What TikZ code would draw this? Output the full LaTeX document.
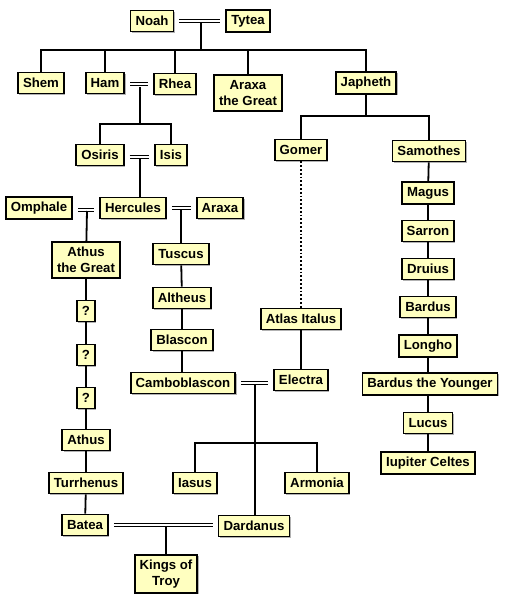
\documentclass[tikz,border=0pt]{standalone}
\usepackage{fontspec}
\setmainfont{Liberation Sans}
\usetikzlibrary{shadows}

\definecolor{boxfill}{HTML}{FFFFC0}

\begin{document}
\begin{tikzpicture}[
    x=1pt, y=-1pt,
    person/.style={rectangle, draw=black, line width=1.8pt, fill=boxfill,
        minimum height=21pt, inner xsep=5pt, inner ysep=5pt, align=center,
        font=\bfseries\fontsize{13.2}{16}\selectfont,
        drop shadow={shadow xshift=1.2pt, shadow yshift=-1.2pt, fill=gray!60, opacity=1}},
    line/.style={line width=1.8pt},
    marr/.style={double, double distance=2pt, line width=1.2pt,
        shorten <=5pt, shorten >=5pt}
    ]
    \useasboundingbox (0,0) rectangle (506,600);

    % Nodes
    \node[person] (noah) at (152,21) {Noah};
    \node[person] (tytea) at (248,21) {Tytea};
    \node[person] (shem) at (41,83) {Shem};
    \node[person] (ham) at (105,83) {Ham};
    \node[person] (rhea) at (175,84) {Rhea};
    \node[person] (araxag) at (248,93) {Araxa\\the Great};
    \node[person] (japheth) at (366,83) {Japheth};
    \node[person] (osiris) at (100,155) {Osiris};
    \node[person] (isis) at (171,155) {Isis};
    \node[person] (omphale) at (39,208) {Omphale};
    \node[person] (hercules) at (133,208) {Hercules};
    \node[person] (araxa) at (220,208) {Araxa};
    \node[person] (athusg) at (86,260) {Athus\\the Great};
    \node[person] (q1) at (86,311) {?};
    \node[person] (q2) at (86,355) {?};
    \node[person] (q3) at (86,398) {?};
    \node[person] (athus) at (86,440) {Athus};
    \node[person] (turrhenus) at (86,483) {Turrhenus};
    \node[person] (batea) at (85,525) {Batea};
    \node[person] (tuscus) at (181,254) {Tuscus};
    \node[person] (altheus) at (182,298) {Altheus};
    \node[person] (blascon) at (182,340) {Blascon};
    \node[person] (cambo) at (183,383) {Camboblascon};
    \node[person] (gomer) at (301,150) {Gomer};
    \node[person] (atlas) at (301,319) {Atlas Italus};
    \node[person] (electra) at (301,380) {Electra};
    \node[person] (iasus) at (195,483) {Iasus};
    \node[person] (armonia) at (317,483) {Armonia};
    \node[person] (dardanus) at (254,526) {Dardanus};
    \node[person] (kings) at (166,574) {Kings of\\Troy};
    \node[person] (samothes) at (429,151) {Samothes};
    \node[person] (magus) at (428,193) {Magus};
    \node[person] (sarron) at (428,231) {Sarron};
    \node[person] (druius) at (428,269) {Druius};
    \node[person] (bardus) at (428,307) {Bardus};
    \node[person] (longho) at (428,346) {Longho};
    \node[person] (bardusy) at (430,384) {Bardus the Younger};
    \node[person] (lucus) at (428,423) {Lucus};
    \node[person] (iupiter) at (428,463) {Iupiter Celtes};

    % Junction points
    \coordinate (nttop) at (201,23);
    \coordinate (ntbar) at (201,50);
    \coordinate (hrtop) at (140,87);
    \coordinate (hrbar) at (140,124);
    \coordinate (oitop) at (140,159);
    \coordinate (ohtop) at (87,211);
    \coordinate (hatop) at (181,210);
    \coordinate (jbar) at (366,116);
    \coordinate (cetop) at (255,385);
    \coordinate (cebar) at (255,443);
    \coordinate (bdtop) at (166,527);

    % Marriages
    \draw[marr] (noah) -- (tytea);
    \draw[marr] (ham.east |- rhea) -- (rhea);
    \draw[marr] (osiris.east |- 0,157) -- (isis.west |- 0,157);
    \draw[marr] (omphale.east |- 0,210) -- (hercules.west |- 0,210);
    \draw[marr] (hercules) -- (araxa);
    \draw[marr] (cambo) -- (cambo -| electra.west);
    \draw[marr] (batea) -- (batea -| dardanus.west);

    % Children of Noah
    \draw[line] (nttop) -- (ntbar);
    \draw[line] (ntbar) -| (shem);
    \draw[line] (ntbar) -| (ham);
    \draw[line] (ntbar) -| (rhea);
    \draw[line] (ntbar) -| (araxag);
    \draw[line] (ntbar) -| (japheth);

    % Ham and Rhea
    \draw[line] (hrtop) -- (hrbar);
    \draw[line] (hrbar) -| (osiris);
    \draw[line] (hrbar) -| (isis);
    \draw[line] (oitop) -- (oitop |- hercules.north);

    % Hercules
    \draw[line] (ohtop) -- (athusg);
    \draw[line] (hatop) -- (tuscus);
    \draw[line] (athusg) -- (q1);
    \draw[line] (q1) -- (q2);
    \draw[line] (q2) -- (q3);
    \draw[line] (q3) -- (athus);
    \draw[line] (athus) -- (turrhenus);
    \draw[line] (turrhenus) -- (batea);
    \draw[line] (tuscus) -- (altheus);
    \draw[line] (altheus) -- (blascon);
    \draw[line] (blascon) -- (cambo.north -| blascon);

    % Japheth
    \draw[line] (japheth) -- (jbar);
    \draw[line] (jbar) -| (gomer);
    \draw[line] (jbar) -| (samothes);
    \draw[line, dotted] (gomer) -- (atlas);
    \draw[line] (atlas) -- (electra);
    \draw[line] (samothes) -- (magus);
    \draw[line] (magus) -- (sarron);
    \draw[line] (sarron) -- (druius);
    \draw[line] (druius) -- (bardus);
    \draw[line] (bardus) -- (longho);
    \draw[line] (longho) -- (bardusy.north -| longho);
    \draw[line] (bardusy.south -| lucus) -- (lucus);
    \draw[line] (lucus) -- (iupiter);

    % Camboblascon and Electra
    \draw[line] (cetop) -- (cetop |- dardanus.north);
    \draw[line] (cebar) -| (iasus);
    \draw[line] (cebar) -| (armonia);

    % Batea and Dardanus
    \draw[line] (bdtop) -- (kings);
\end{tikzpicture}
\end{document}
